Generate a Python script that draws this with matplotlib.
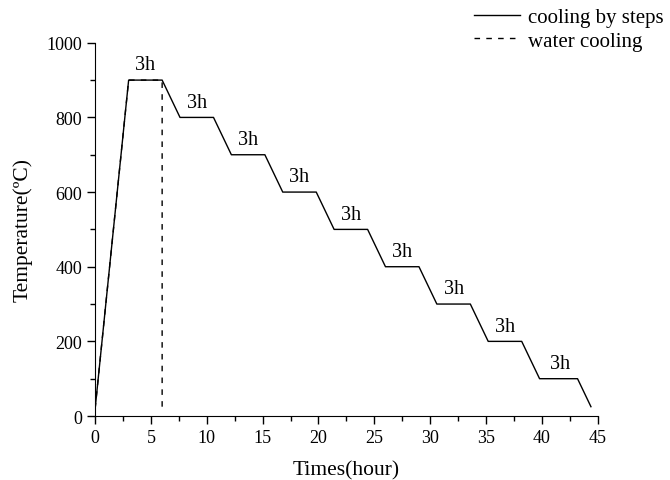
import matplotlib
matplotlib.use("Agg")
import matplotlib.pyplot as plt
from matplotlib.ticker import MultipleLocator

plt.rcParams['font.family'] = ['Liberation Serif', 'DejaVu Serif']

# cooling by steps: (time, temperature)
step_time = [0, 3, 6, 7.6, 10.6, 12.2, 15.2, 16.8, 19.8, 21.4, 24.4, 26.0, 29.0,
             30.6, 33.6, 35.2, 38.2, 39.8, 43.2, 44.4]
step_temp = [20, 900, 900, 800, 800, 700, 700, 600, 600, 500, 500, 400, 400,
             300, 300, 200, 200, 100, 100, 25]

# water cooling
water_time = [0, 3, 6, 6]
water_temp = [20, 900, 900, 25]

# hold labels above each plateau
hold_x = [4.5, 9.1, 13.7, 18.3, 22.9, 27.5, 32.1, 36.7, 41.6]
hold_y = [900, 800, 700, 600, 500, 400, 300, 200, 100]
hold_text = "3h"

fig = plt.figure(figsize=(6.7, 4.81), dpi=100)
ax = fig.add_axes([0.142, 0.133, 0.750, 0.776])

ax.plot(step_time, step_temp, color='black', lw=1.0, label='cooling by steps')
ax.plot(water_time, water_temp, color='black', lw=1.0, ls=(0, (4, 4.5)), label='water cooling')

for x, y in zip(hold_x, hold_y):
    ax.text(x, y + 15, hold_text, ha='center', va='bottom', fontsize=14.5)

ax.set_xlim(0, 45)
ax.set_ylim(0, 1000)
ax.xaxis.set_major_locator(MultipleLocator(5))
ax.xaxis.set_minor_locator(MultipleLocator(2.5))
ax.yaxis.set_major_locator(MultipleLocator(200))
ax.yaxis.set_minor_locator(MultipleLocator(100))
ax.tick_params(which='major', direction='out', length=6, width=1, labelsize=13)
ax.tick_params(which='minor', direction='out', length=3.5, width=1)
ax.spines['top'].set_visible(False)
ax.spines['right'].set_visible(False)

ax.set_xlabel('Times(hour)', fontsize=15.5, labelpad=10)
ax.set_ylabel('Temperature(ºC)', fontsize=15.5, labelpad=10)

ax.legend(loc='upper right', bbox_to_anchor=(1.003, 1.0), bbox_transform=fig.transFigure,
          frameon=False, fontsize=15, handlelength=2.2, handletextpad=0.4,
          labelspacing=0.2, borderaxespad=0.0)

fig.savefig('out.png', dpi=100)
